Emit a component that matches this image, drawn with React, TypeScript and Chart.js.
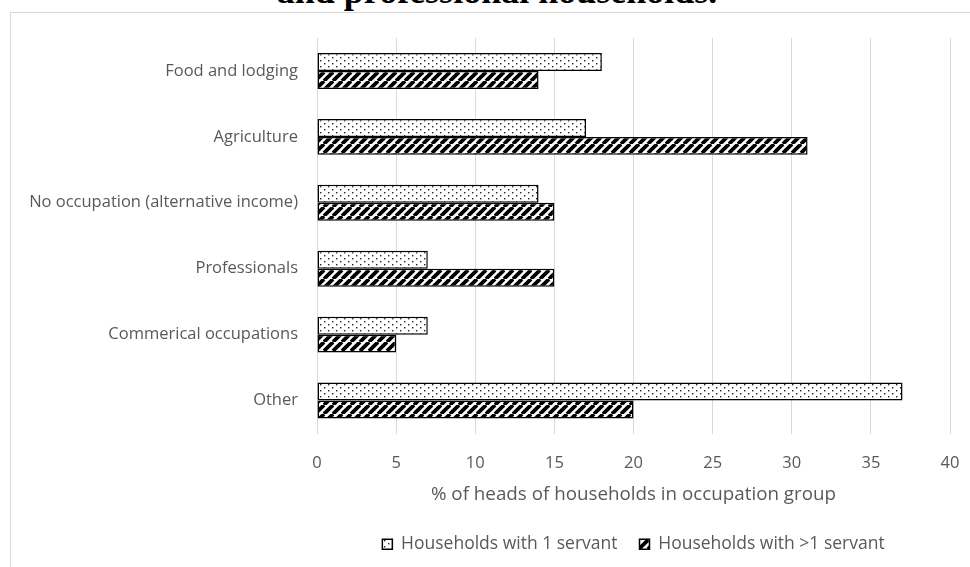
import React, { useEffect, useRef } from "react";
import { Chart, registerables } from "chart.js";

Chart.register(...registerables);

// Occupation groups, listed top to bottom
const categories = [
  "Food and lodging",
  "Agriculture",
  "No occupation (alternative income)",
  "Professionals",
  "Commerical occupations",
  "Other",
];

// Share (%) of heads of households in each occupation group
const oneServant = [18, 17, 14, 7, 7, 37];
const moreServants = [14, 31, 15, 15, 5, 20];

const seriesNames = ["Households with 1 servant", "Households with >1 servant"];
const axisTitle = "% of heads of households in occupation group";
const titleText = "and professional households.";
const xMin = 0;
const xMax = 40;
const xStep = 5;

const TEXT = "#595959";
const GRID = "#d9d9d9";
const FONT = "'Open Sans', 'Noto Sans', sans-serif";

function dotPattern(): CanvasPattern | string {
  const c = document.createElement("canvas");
  c.width = 8;
  c.height = 6;
  const g = c.getContext("2d");
  if (!g) return "#fff";
  g.fillStyle = "#fff";
  g.fillRect(0, 0, 8, 6);
  g.fillStyle = "#222";
  g.fillRect(0, 0, 1.4, 1.4);
  g.fillRect(4, 3, 1.4, 1.4);
  return g.createPattern(c, "repeat") || "#fff";
}

function hatchPattern(): CanvasPattern | string {
  const s = 9;
  const c = document.createElement("canvas");
  c.width = s;
  c.height = s;
  const g = c.getContext("2d");
  if (!g) return "#000";
  g.fillStyle = "#fff";
  g.fillRect(0, 0, s, s);
  g.strokeStyle = "#000";
  g.lineWidth = 3.8;
  for (const k of [-s, 0, s]) {
    g.beginPath();
    g.moveTo(k, s);
    g.lineTo(k + s, 0);
    g.stroke();
  }
  return g.createPattern(c, "repeat") || "#000";
}

export default function App() {
  const ref = useRef<HTMLCanvasElement | null>(null);

  useEffect(() => {
    if (!ref.current) return;
    const chart = new Chart(ref.current, {
      type: "bar",
      data: {
        labels: categories,
        datasets: [
          {
            label: seriesNames[0],
            data: oneServant,
            backgroundColor: dotPattern() as any,
            borderColor: "#000",
            borderWidth: 1.5,
            borderSkipped: false,
            categoryPercentage: 0.545,
            barPercentage: 1,
          },
          {
            label: seriesNames[1],
            data: moreServants,
            backgroundColor: hatchPattern() as any,
            borderColor: "#000",
            borderWidth: 1.5,
            borderSkipped: false,
            categoryPercentage: 0.545,
            barPercentage: 1,
          },
        ],
      },
      options: {
        indexAxis: "y",
        responsive: false,
        animation: false,
        devicePixelRatio: 1,
        layout: { padding: { left: 10, right: 20, top: 38, bottom: 4 } },
        plugins: {
          tooltip: { enabled: false },
          legend: {
            position: "bottom",
            fullSize: false,
            labels: {
              boxWidth: 10,
              boxHeight: 10,
              padding: 22,
              color: TEXT,
              font: { family: FONT, size: 17.5 },
            },
          },
        },
        scales: {
          x: {
            min: xMin,
            max: xMax,
            ticks: {
              stepSize: xStep,
              color: TEXT,
              font: { family: FONT, size: 16.5 },
              padding: 0,
            },
            // invisible tick marks keep the labels clear of the plot
            grid: {
              color: GRID,
              lineWidth: 1,
              drawTicks: true,
              tickLength: 20,
              tickColor: "rgba(0,0,0,0)",
            },
            border: { display: false },
            title: {
              display: true,
              text: axisTitle,
              color: TEXT,
              font: { family: FONT, size: 18.8 },
              padding: { top: 0, bottom: 8 },
            },
            afterFit: (scale: any) => {
              scale.height = 80;
            },
          },
          y: {
            grid: { display: false, drawTicks: false },
            border: { display: false },
            ticks: {
              color: TEXT,
              font: { family: FONT, size: 16.5 },
              padding: 19,
            },
            afterFit: (scale: any) => {
              scale.width = 307;
            },
          },
        },
      },
    });
    return () => chart.destroy();
  }, []);

  return (
    <div
      style={{
        position: "fixed",
        left: 0,
        top: 0,
        width: 970,
        height: 567,
        overflow: "hidden",
        background: "#fff",
      }}
    >
      <div
        style={{
          position: "absolute",
          left: 10,
          top: 12,
          width: 1000,
          height: 1000,
          border: `1px solid ${GRID}`,
          boxSizing: "border-box",
        }}
      />
      <div
        style={{
          position: "absolute",
          left: 0,
          top: -27,
          width: 994,
          textAlign: "center",
          fontFamily: "'Liberation Serif', serif",
          fontWeight: "bold",
          fontSize: 36,
          lineHeight: "36px",
          whiteSpace: "nowrap",
          color: "#000",
        }}
      >
        {titleText}
      </div>
      <canvas
        ref={ref}
        width={970}
        height={567}
        style={{ position: "absolute", left: 0, top: 0, width: 970, height: 567 }}
      />
    </div>
  );
}
